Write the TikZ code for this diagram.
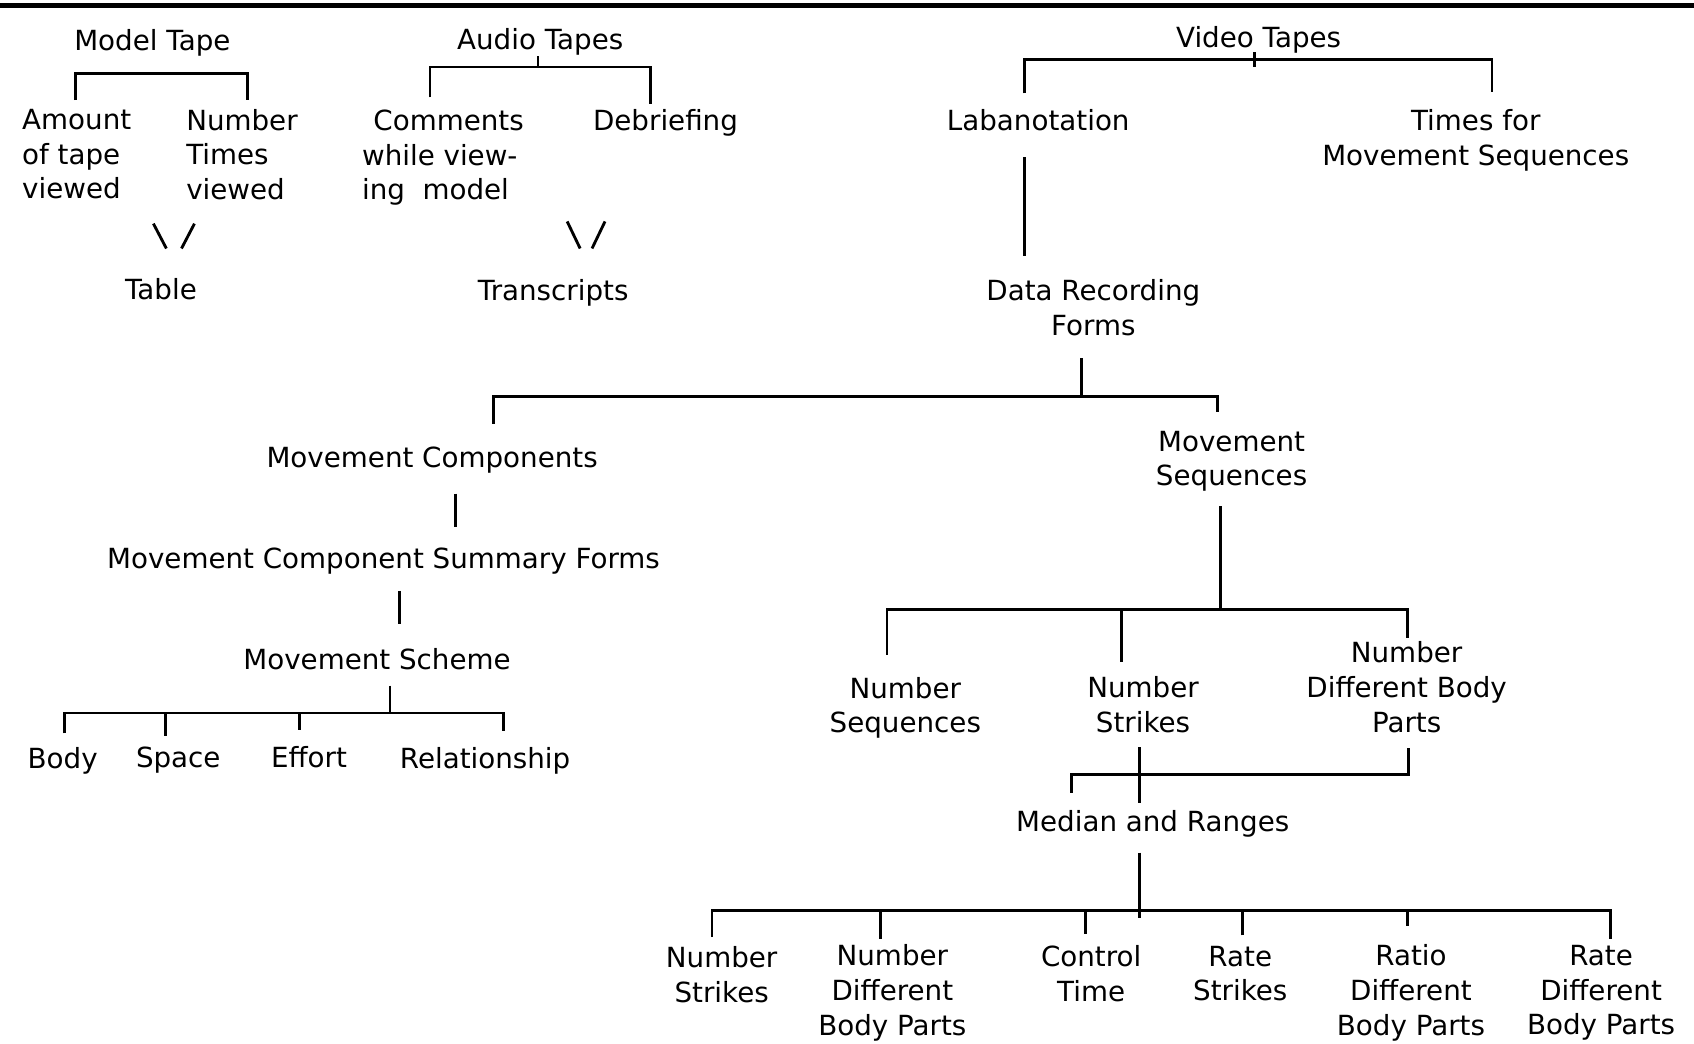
\documentclass[tikz,border=0pt]{standalone}
\usepackage{fontspec}
\setmainfont{DejaVu Sans}
\usepackage{tikz}

\begin{document}
\begin{tikzpicture}[x=0.01cm, y=-0.01cm,
    lbl/.style={inner sep=0pt, font=\fontsize{7.3}{9.1}\selectfont, align=center},
    lbll/.style={lbl, align=left},
    link/.style={line width=0.75pt}]
\useasboundingbox (0,0) rectangle (1568,966);

% rule across the top
\draw[line width=1.3pt] (0,5) -- (1568,5);

% Model tape
\node[lbl] (mtape) at (141,40) {Model Tape};
\node[lbll] (amount) at (71,143) {Amount\\of tape\\viewed};
\node[lbll] (ntimes) at (224,143) {Number\\Times\\viewed};
\node[lbl] (table) at (149,268) {Table};
\coordinate (mtbar) at (150,68);
\draw[link] ([shift={(-1,-8)}]amount.north) |- (mtbar) -| ([shift={(5,-8)}]ntimes.north);
\draw[link] ([shift={(-7,-61)}]table.center) -- ([shift={(5,-38)}]table.center);
\draw[link] ([shift={(31,-61)}]table.center) -- ([shift={(19,-38)}]table.center);

% Audio tapes
\node[lbl] (audio) at (500,39) {Audio Tapes};
\node[lbll] (comments) at (410,146) {\hspace*{3pt}Comments\\while view-\\ing\ \ model};
\node[lbl] (debrief) at (616,114) {Debriefing};
\node[lbl] (transc) at (512,271) {Transcripts};
\coordinate (audbar) at (498,62);
\draw[link] ([shift={(-12,-11)}]comments.north) |- (audbar) -| ([shift={(-14,-5)}]debrief.north);
\draw[link] (audbar) -- ([shift={(-2,0)}]audio.south);
\draw[link] ([shift={(13,-66)}]transc.center) -- ([shift={(25,-41)}]transc.center);
\draw[link] ([shift={(48,-66)}]transc.center) -- ([shift={(36,-41)}]transc.center);

% Video tapes
\node[lbl] (video) at (1165,37) {Video Tapes};
\node[lbl] (laban) at (961,111) {Labanotation};
\node[lbl] (times) at (1366,130) {Times for\\Movement Sequences};
\node[lbl] (drf) at (1012,285) {Data Recording\\Forms};
\coordinate (vidbar) at (1161,55);
\draw[link] ([shift={(-13,-14)}]laban.north) |- (vidbar) -| ([shift={(15,-16)}]times.north);
\draw[link] ([shift={(-4,-2)}]video.south) -- ([shift={(0,7)}]vidbar);
\draw[link] ([shift={(-13,24)}]laban.south) -- ([shift={(-64,-21)}]drf.north);

% Movement components / sequences
\node[lbl] (mcomp) at (400,426) {Movement Components};
\node[lbl] (mseq) at (1140,427) {Movement\\Sequences};
\coordinate (drfbar) at (1001,367);
\draw[link] ([shift={(57,-21)}]mcomp.north) |- (drfbar) -| ([shift={(-13,-17)}]mseq.north);
\draw[link] ([shift={(-11,20)}]drf.south) -- (drfbar);

% Left branch
\node[lbl] (mcsf) at (355,519) {Movement Component Summary Forms};
\node[lbl] (mscheme) at (349,610) {Movement Scheme};
\node[lbl] (body) at (58,704) {Body};
\node[lbl] (space) at (165,704) {Space};
\node[lbl] (effort) at (286,701) {Effort};
\node[lbl] (relat) at (449,704) {Relationship};
\draw[link] ([shift={(22,18)}]mcomp.south) -- ([shift={(67,-18)}]mcsf.north);
\draw[link] ([shift={(15,15)}]mcsf.south) -- ([shift={(21,-22)}]mscheme.north);
\coordinate (msbar) at (361,660);
\draw[link] ([shift={(12,14)}]mscheme.south) -- (msbar);
\draw[link] ([shift={(2,-12)}]body.north) |- (msbar) -| ([shift={(17,-14)}]relat.north);
\draw[link] ([shift={(-12,-10)}]space.north) |- (msbar);
\draw[link] ([shift={(-9,-15)}]effort.north) |- (msbar);

% Right branch
\node[lbl] (nseq) at (838,655) {Number\\Sequences};
\node[lbl] (nstr) at (1058,652) {Number\\Strikes};
\node[lbl] (ndbp) at (1302,636) {Number\\Different Body\\Parts};
\node[lbl] (median) at (1067,763) {Median and Ranges};
\coordinate (nbar) at (1130,564);
\draw[link] ([shift={(-10,13)}]mseq.south) -- (nbar);
\draw[link] ([shift={(-17,-20)}]nseq.north) |- (nbar) -| ([shift={(1,-3)}]ndbp.north);
\draw[link] ([shift={(-20,-13)}]nstr.north) |- (nbar);
\coordinate (jbar) at (1055,717);
\draw[link] ([shift={(2,14)}]ndbp.south) |- (jbar) -| ([shift={(-75,-16)}]median.north);
\draw[link] ([shift={(-3,13)}]nstr.south) -- ([shift={(-12,-7)}]median.north);

% Bottom row
\node[lbl] (bnstr) at (668,902) {Number\\Strikes};
\node[lbl] (bndbp) at (826,919) {Number\\Different\\Body Parts};
\node[lbl] (ctime) at (1010,901) {Control\\Time};
\node[lbl] (rstr) at (1148,901) {Rate\\Strikes};
\node[lbl] (rdbp) at (1306,919) {Ratio\\Different\\Body Parts};
\node[lbl] (ratedbp) at (1482,919) {Rate\\Different\\Body Parts};
\coordinate (bbar) at (1055,843);
\draw[link] ([shift={(-12,13)}]median.south) -- ([shift={(0,7)}]bbar);
\draw[link] ([shift={(-9,-8)}]bnstr.north) |- (bbar) -| ([shift={(9,-5)}]ratedbp.north);
\draw[link] ([shift={(-11,-5)}]bndbp.north) |- (bbar);
\draw[link] ([shift={(-5,-10)}]ctime.north) |- (bbar);
\draw[link] ([shift={(2,-9)}]rstr.north) |- (bbar);
\draw[link] ([shift={(-3,-17)}]rdbp.north) |- (bbar);
\end{tikzpicture}
\end{document}
